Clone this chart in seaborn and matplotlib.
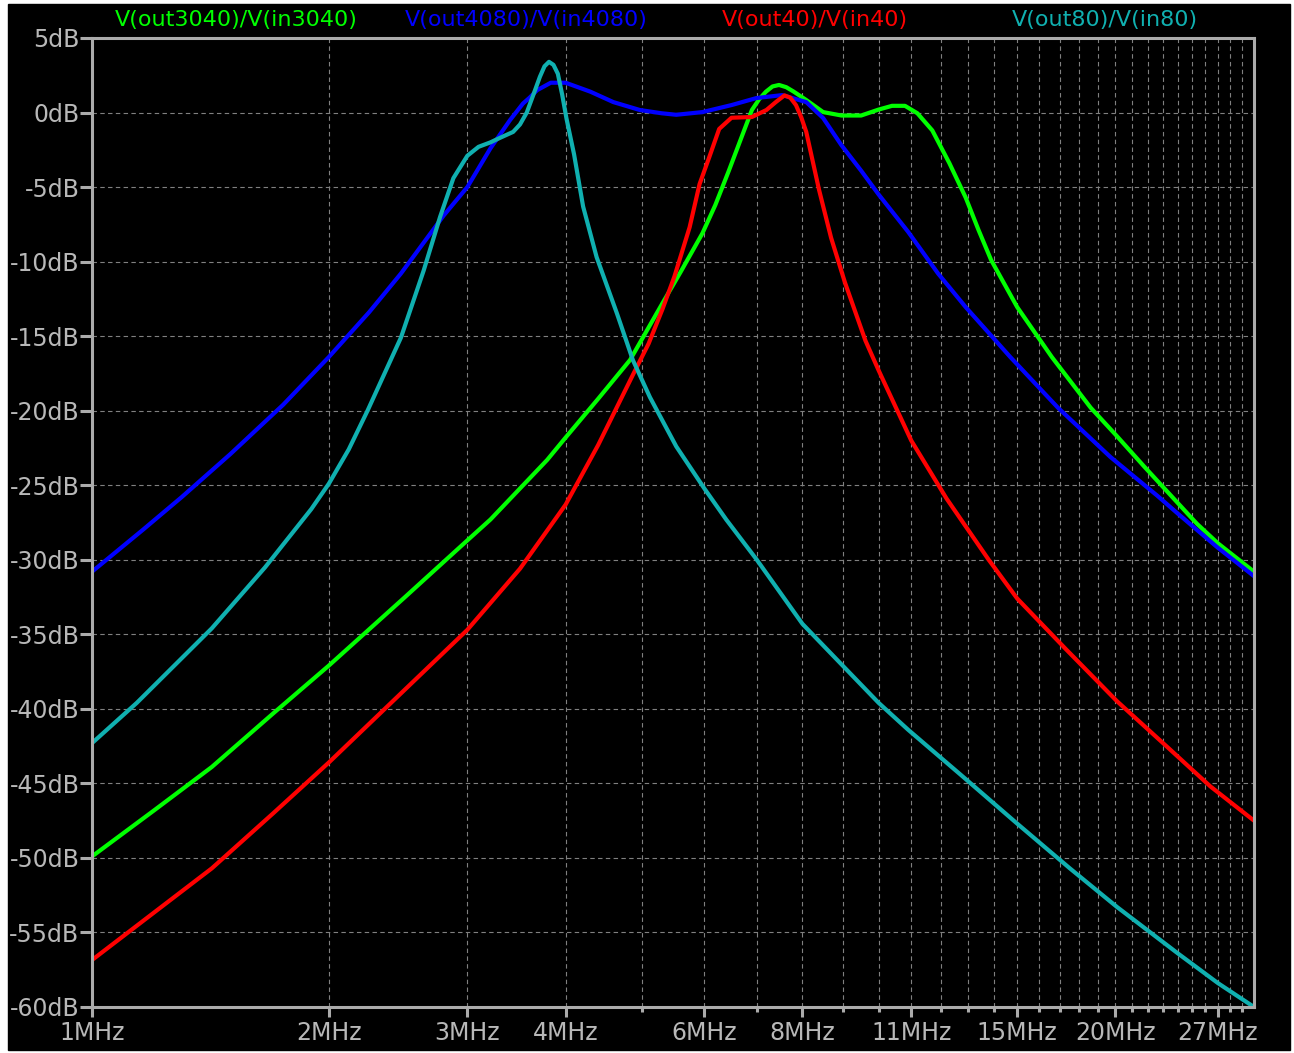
import pandas as pd
import seaborn as sns
import matplotlib.pyplot as plt
from matplotlib.patches import Rectangle
from matplotlib.ticker import FixedLocator, FixedFormatter, NullFormatter

sns.set_style("dark", {"axes.facecolor": "black", "figure.facecolor": "white"})
plt.rcParams['font.family'] = ['DejaVu Sans']

# frequency in MHz, gain in dB
f_green = [1.0, 1.2, 1.42, 1.7, 2.0, 2.5, 3.0, 3.21, 3.79, 4.0, 4.4, 4.83, 5.31, 5.6, 5.97,
           6.2, 6.45, 6.7, 6.9, 7.05, 7.19, 7.33, 7.47, 7.63, 7.8, 8.09, 8.5, 8.97, 9.5, 10.0,
           10.4, 10.8, 11.2, 11.7, 12.3, 12.9, 13.4, 13.9, 15.0, 16.6, 18.6, 20.0, 21.8, 25.4,
           27.0, 30.0]
db_green = [-49.9, -46.8, -43.9, -40.3, -37.1, -32.5, -28.7, -27.3, -23.3, -21.8, -19.2, -16.6, -12.8, -10.7, -8.1,
            -6.2, -3.9, -1.6, 0.17, 0.9, 1.4, 1.75, 1.85, 1.7, 1.4, 0.84, 0.03, -0.2, -0.2, 0.2,
            0.45, 0.45, -0.05, -1.2, -3.4, -5.7, -7.9, -9.9, -13.05, -16.4, -19.8, -21.6, -23.8, -27.6,
            -28.9, -30.8]

f_blue = [1.0, 1.16, 1.3, 1.5, 1.75, 2.0, 2.25, 2.47, 2.8, 3.0, 3.21, 3.4, 3.53, 3.6, 3.68, 3.83, 4.0,
          4.3, 4.6, 4.97, 5.3, 5.53, 5.97, 6.5, 6.99, 7.54, 8.09, 8.5, 8.97, 9.5, 10.0, 10.9,
          11.9, 12.9, 14.7, 16.9, 19.7, 22.6, 24.0, 27.0, 30.0]
db_blue = [-30.8, -28.0, -25.8, -22.9, -19.6, -16.4, -13.4, -10.8, -6.9, -5.0, -2.4, -0.5, 0.6, 1.0, 1.5, 2.0, 2.0,
           1.4, 0.7, 0.17, -0.05, -0.15, 0.03, 0.5, 0.97, 1.17, 0.7, -0.37, -2.2, -3.9, -5.5, -8.0,
           -10.8, -13.05, -16.4, -19.8, -23.1, -25.7, -26.9, -29.2, -31.1]

f_red = [1.0, 1.2, 1.42, 1.7, 2.0, 2.5, 3.0, 3.5, 3.83, 4.0, 4.4, 4.87, 5.1, 5.31, 5.5, 5.75,
         5.92, 6.09, 6.27, 6.5, 6.9, 7.2, 7.4, 7.59, 7.72, 7.85, 7.97, 8.09, 8.4, 8.7, 9.06, 9.62,
         10.0, 11.0, 12.2, 13.8, 15.0, 17.3, 20.1, 23.1, 26.4, 30.0]
db_red = [-56.85, -53.65, -50.7, -47.0, -43.6, -38.7, -34.7, -30.6, -27.7, -26.3, -22.3, -17.6, -15.5, -13.2, -11.0, -7.7,
          -4.8, -3.0, -1.1, -0.35, -0.3, 0.17, 0.7, 1.15, 1.0, 0.5, -0.3, -1.3, -5.2, -8.4, -11.4, -15.3,
          -17.3, -22.0, -25.9, -30.0, -32.6, -36.0, -39.5, -42.4, -45.2, -47.5]

f_cyan = [1.0, 1.14, 1.42, 1.66, 1.9, 2.0, 2.12, 2.24, 2.47, 2.64, 2.77, 2.88, 3.0, 3.1, 3.21, 3.3, 3.43,
          3.5, 3.57, 3.64, 3.71, 3.76, 3.81, 3.86, 3.91, 3.96, 4.01, 4.1, 4.21, 4.38, 4.65, 4.87, 5.12,
          5.53, 6.0, 6.4, 7.0, 8.0, 9.0, 10.0, 10.9, 12.7, 15.0, 17.5, 20.1, 24.0, 27.0, 30.0]
db_cyan = [-42.3, -39.6, -34.6, -30.5, -26.6, -24.9, -22.6, -20.0, -15.1, -10.6, -7.0, -4.4, -2.9, -2.3, -2.0, -1.7, -1.3,
           -0.8, 0.0, 1.2, 2.4, 3.1, 3.4, 3.2, 2.6, 1.2, -0.4, -2.8, -6.3, -9.7, -13.5, -16.6, -19.1,
           -22.4, -25.2, -27.3, -30.0, -34.3, -37.1, -39.6, -41.4, -44.4, -47.7, -50.7, -53.3, -56.4, -58.4, -60.0]

traces = ["V(out3040)/V(in3040)", "V(out4080)/V(in4080)", "V(out40)/V(in40)", "V(out80)/V(in80)"]
colors = ["#00ff00", "#0000ff", "#ff0000", "#10b0b0"]
label_x = [236, 526, 815, 1105]

x_major = [1, 2, 3, 4, 6, 8, 11, 15, 20, 27]
x_minor = [m for m in range(5, 30) if m not in x_major]
y_ticks = list(range(-60, 6, 5))

frames = []
for name, f, d in zip(traces, [f_green, f_blue, f_red, f_cyan], [db_green, db_blue, db_red, db_cyan]):
    frames.append(pd.DataFrame({"freq": f, "db": d, "trace": name}))
df = pd.concat(frames, ignore_index=True)

W, H = 1294, 1053
frame_col = "#ababab"
text_col = "#b8b8b8"

fig = plt.figure(figsize=(W / 100, H / 100), dpi=100)
fig.patches.append(Rectangle((8 / W, 3 / H), (1290 - 8) / W, (1049 - 3) / H,
                             transform=fig.transFigure, color="black", zorder=-1))
ax = fig.add_axes([92 / W, 1 - 1007 / H, (1254 - 92) / W, (1007 - 38) / H])
ax.set_facecolor("black")
ax.set_xscale("log")

sns.lineplot(data=df, x="freq", y="db", hue="trace", hue_order=traces, palette=colors,
             estimator=None, sort=False, linewidth=3.0, legend=False, ax=ax,
             solid_joinstyle="round", solid_capstyle="round")

ax.set_xlim(1, 30)
ax.set_ylim(-60, 5)
ax.set_xlabel("")
ax.set_ylabel("")

ax.xaxis.set_major_locator(FixedLocator(x_major))
ax.xaxis.set_major_formatter(FixedFormatter([f"{m}MHz" for m in x_major]))
ax.xaxis.set_minor_locator(FixedLocator(x_minor))
ax.xaxis.set_minor_formatter(NullFormatter())
ax.set_yticks(y_ticks)
ax.set_yticklabels([f"{v}dB" for v in y_ticks])

ax.grid(True, which="both", axis="x", color="#808080", linestyle=(0, (4, 3)), linewidth=0.8)
ax.grid(True, which="major", axis="y", color="#808080", linestyle=(0, (4, 3)), linewidth=0.8)

ax.tick_params(axis="y", which="major", left=True, direction="out", length=9, width=2.2,
               color=frame_col, labelcolor=text_col, labelsize=17, pad=0)
ax.tick_params(axis="x", which="major", bottom=True, direction="out", length=7, width=2.2,
               color=frame_col, labelcolor=text_col, labelsize=17, pad=3)
ax.tick_params(axis="x", which="minor", bottom=True, direction="out", length=3.5, width=2.2,
               color=frame_col)

for s in ax.spines.values():
    s.set_color(frame_col)
    s.set_linewidth(2.2)

for name, c, x in zip(traces, colors, label_x):
    fig.text(x / W, 1 - 20 / H, name, color=c, ha="center", va="center", fontsize=16)

fig.savefig("out.png", dpi=100, facecolor="white")
